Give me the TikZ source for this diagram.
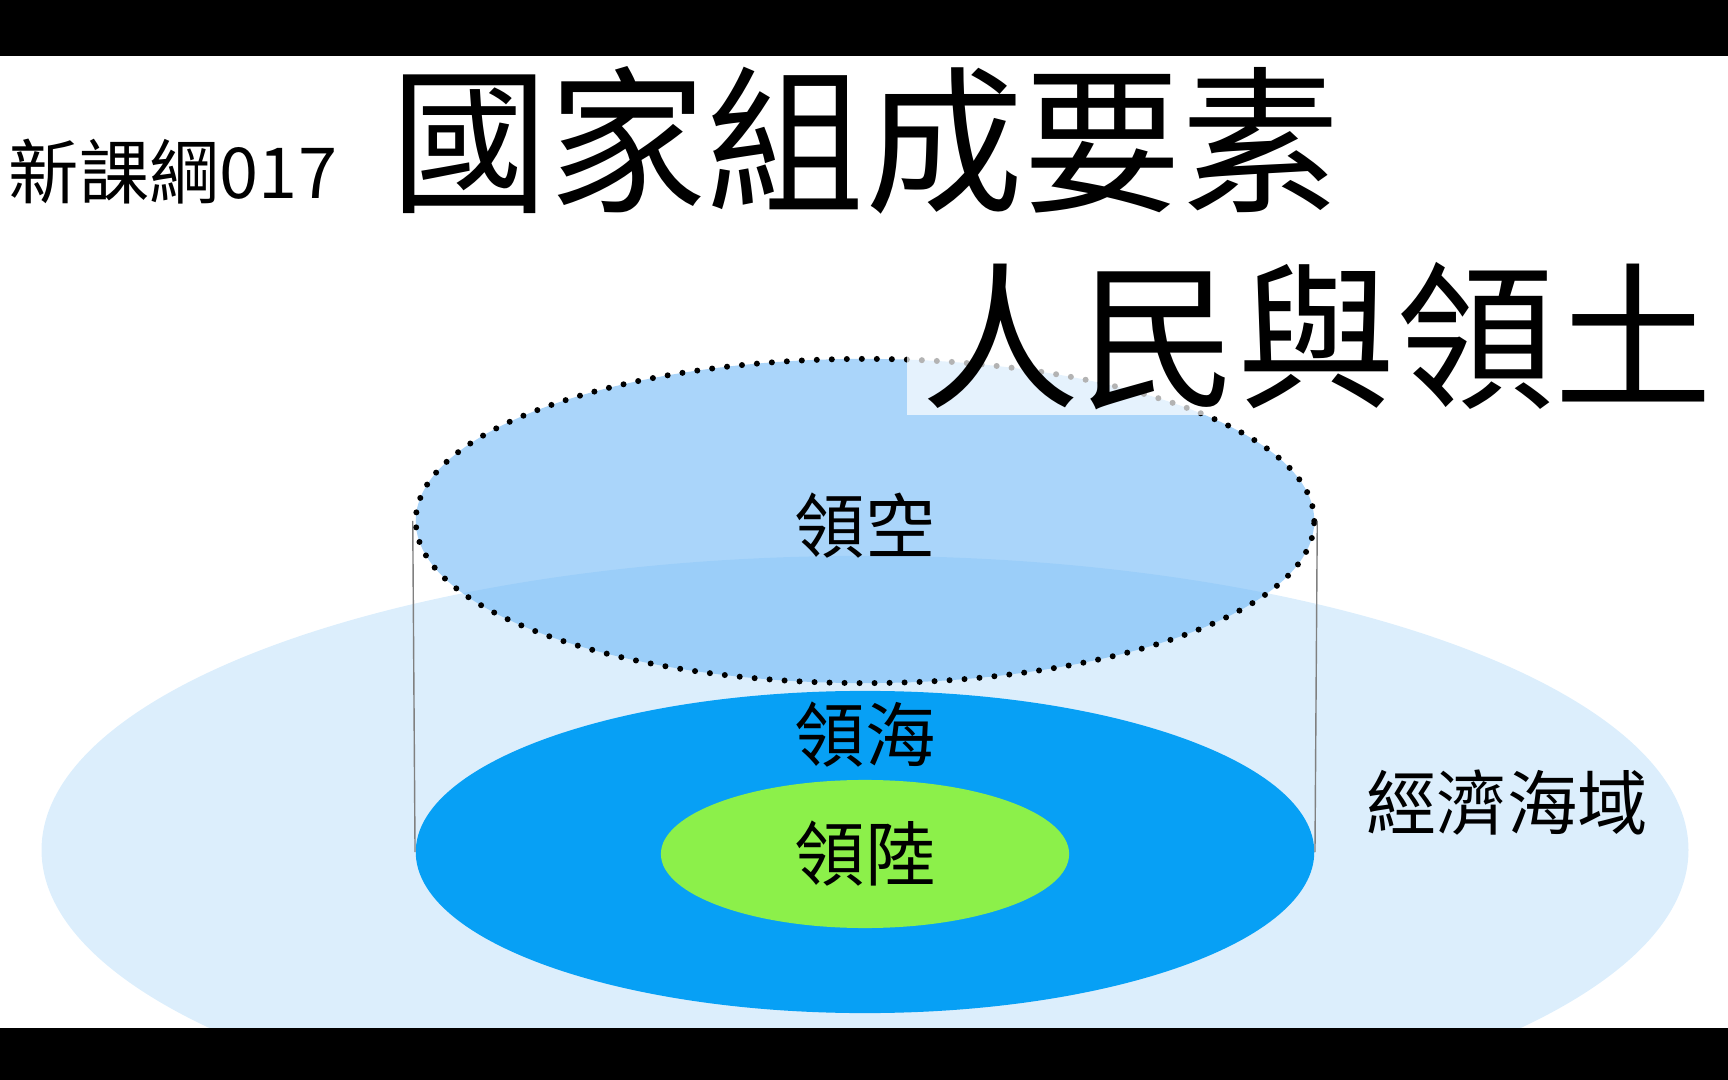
\documentclass[tikz,border=0pt]{standalone}
\usepackage{fontspec}
\newfontfamily\cjk{Noto Sans CJK TC}
\usetikzlibrary{shapes.geometric}
\definecolor{eezblue}{HTML}{DCEEFC}
\definecolor{seablue}{HTML}{07A0F5}
\definecolor{landgreen}{HTML}{8CF04A}
\definecolor{airblue}{RGB}{113,185,247}

\begin{document}
\begin{tikzpicture}[x=0.01cm,y=-0.01cm,
  zone/.style={ellipse,inner sep=0pt},
  lbl/.style={font=\cjk\fontsize{20pt}{24pt}\selectfont,inner sep=0pt},
  big/.style={font=\cjk\fontsize{45pt}{54pt}\selectfont,inner sep=0pt}]
\useasboundingbox (0,0) rectangle (1728,1080);

\node[zone,fill=eezblue,minimum width=16.46cm,minimum height=5.88cm] (eez) at (865,850) {};
\node[zone,fill=seablue,minimum width=8.98cm,minimum height=3.22cm] (sea) at (865,852) {};
\node[zone,fill=landgreen,minimum width=4.08cm,minimum height=1.48cm] (land) at (865,854) {};
\node[zone,fill=airblue,fill opacity=0.6,draw,dash pattern=on 0pt off 0.15cm,line cap=round,line width=0.06cm,minimum width=8.98cm,minimum height=3.24cm] (air) at (865,521) {};
\draw[gray,thin] (air.west) -- (sea.west);
\draw[gray,thin] (air.east) -- (sea.east);

\node[lbl] (airlbl) at (865,526) {領空};
\node[lbl] (sealbl) at (865,735) {領海};
\node[lbl] (landlbl) at (865,854) {領陸};
\node[lbl] (eezlbl) at (1507,803) {經濟海域};

\node[lbl] (code) at (173,172) {新課綱017};
\node[big] (title) at (865,140) {國家組成要素};
\node[big,fill=white,fill opacity=0.7,text opacity=1,inner xsep=0.145cm,inner ysep=0.05cm] (subtitle) at (1317,336) {人民與領土};

\fill[black] (0,0) rectangle (1728,56);
\fill[black] (0,1028) rectangle (1728,1080);
\end{tikzpicture}
\end{document}
